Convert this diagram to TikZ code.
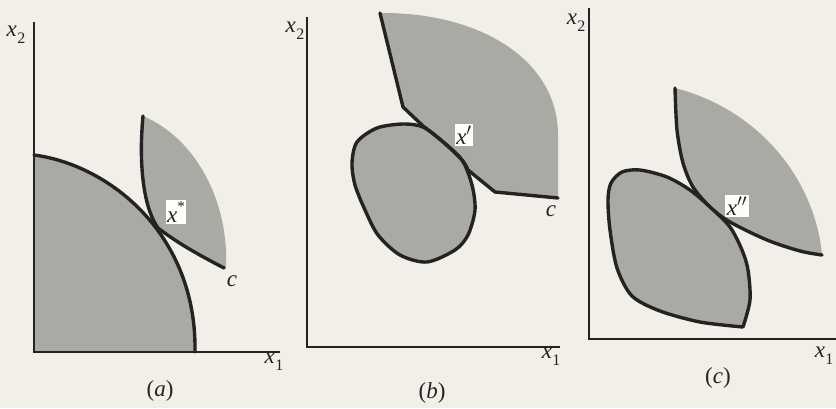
\documentclass[tikz,border=0pt]{standalone}
\usepackage{fontspec}
\setmainfont{Liberation Serif}
\definecolor{paper}{RGB}{241,239,231}
\definecolor{shade}{RGB}{170,170,165}
\definecolor{ink}{RGB}{35,35,35}
\tikzset{
  axis/.style={draw=ink, line width=2pt},
  bound/.style={draw=ink, line width=3.4pt, line join=round, line cap=round},
  region/.style={fill=shade},
  lab/.style={text=ink, font=\fontsize{23}{25}\selectfont, inner sep=1pt},
  ptlab/.style={lab, fill=white!85!paper, inner sep=1.5pt},
}
\newcommand{\vx}[1]{\textit{x}\kern0.3pt\raisebox{-0.3em}{\fontsize{16}{16}\selectfont #1}}
\begin{document}
\begin{tikzpicture}[x=1pt,y=-1pt]
\useasboundingbox (0,0) rectangle (836,408);
\fill[paper] (0,0) rectangle (836,408);

% ---------------- panel (a)
\coordinate (ya) at (34,22);
\coordinate (oa) at (34,352);
\coordinate (xa) at (280,352);
\fill[region] (34,155) .. controls (110,165) and (197,235) .. (195,352) -- (oa) -- cycle;
\fill[region] (143,116) .. controls (138,170) and (145,210) .. (158,228)
   .. controls (180,245) and (205,258) .. (226,268)
   .. controls (229,200) and (195,138) .. (143,116) -- cycle;
\draw[bound] (34,155) .. controls (110,165) and (197,235) .. (195,352);
\draw[bound] (143,116) .. controls (138,170) and (145,210) .. (158,228)
   .. controls (180,245) and (205,258) .. (224,268);
\draw[axis] (ya) -- (oa) -- (xa);
\node[lab] (x2a) at (16,35) {\vx{2}};
\node[lab] (x1a) at (274,362) {\vx{1}};
\node[lab] (ca) at (232,281) {\textit{c}};
\node[ptlab] (xsa) at (176,212) {\textit{x}\raisebox{0.45em}{\fontsize{15}{15}\selectfont *}};
\node[lab] (capa) at (160,391) {(\textit{a})};

% ---------------- panel (b)
\coordinate (yb) at (307,17);
\coordinate (ob) at (307,347);
\coordinate (xb) at (560,347);
\fill[region] (380,13) -- (403,107) -- (423,126)
   -- plot[smooth] coordinates {(423,126) (442,141) (462,160) (468,170)}
   -- (495,192) -- (558,198) -- (558,135)
   .. controls (558,60) and (480,12) .. (380,13) -- cycle;
\filldraw[region, bound] plot[smooth cycle] coordinates {(357,142) (377,128) (403,124) (423,127) (442,141) (462,160) (472,185) (475,210) (468,235) (455,250) (427,262) (400,255) (378,235) (365,210) (355,185) (352,163)};
\draw[bound] (380,13) -- (403,107) -- (423,126)
   -- plot[smooth] coordinates {(423,126) (442,141) (462,160) (468,170)}
   -- (495,192) -- (558,198);
\draw[axis] (yb) -- (ob) -- (xb);
\node[lab] (x2b) at (295,31) {\vx{2}};
\node[lab] (x1b) at (551,357) {\vx{1}};
\node[lab] (cb) at (551,211) {\textit{c}};
\node[ptlab] (xpb) at (464,135) {\textit{x}$'$};
\node[lab] (capb) at (432,393) {(\textit{b})};

% ---------------- panel (c)
\coordinate (yc) at (589,8);
\coordinate (oc) at (589,339);
\coordinate (xc) at (836,339);
\fill[region] plot[smooth] coordinates {(675,88) (677,130) (683,163) (693,187) (710,207) (730,222) (767,240) (800,251) (822,255)}
   .. controls (815,180) and (760,110) .. (675,88) -- cycle;
\draw[bound] plot[smooth] coordinates {(675,88) (677,130) (683,163) (693,187) (710,207) (730,222) (767,240) (800,251) (822,255)};
\filldraw[region, bound] plot[smooth] coordinates {(743,327) (750,300) (748,270) (742,250) (730,227) (710,207) (690,190) (667,177) (640,170) (622,172) (611,183) (608,200) (610,230) (617,268) (632,296) (660,311) (700,322) (743,327)};
\draw[axis] (yc) -- (oc) -- (xc);
\node[lab] (x2c) at (576,23) {\vx{2}};
\node[lab] (x1c) at (824,356) {\vx{1}};
\node[ptlab] (xppc) at (737,206) {\textit{x}$''$};
\node[lab] (capc) at (718,378) {(\textit{c})};
\end{tikzpicture}
\end{document}
